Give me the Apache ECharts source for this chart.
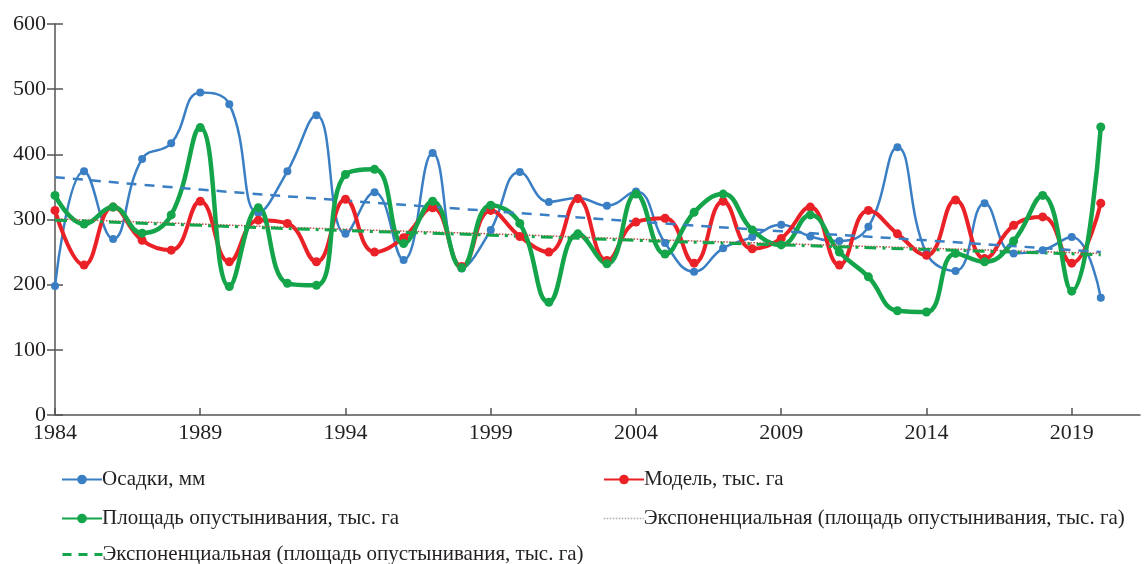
<!DOCTYPE html>
<html>
<head>
<meta charset="utf-8">
<script src="https://cdn.jsdelivr.net/npm/echarts@6/dist/echarts.min.js"></script>
<style>
  html,body{margin:0;padding:0;background:#fff;}
  #main{width:1145px;height:564px;}
</style>
</head>
<body>
<div id="main"></div>
<script>
    // годы и ряды
    var years = [1984,1985,1986,1987,1988,1989,1990,1991,1992,1993,1994,1995,1996,1997,1998,1999,2000,2001,2002,2003,2004,2005,2006,2007,2008,2009,2010,2011,2012,2013,2014,2015,2016,2017,2018,2019,2020];
    var osadki = [198,374,270,393,417,495,477,310,374,460,278,342,238,402,225,284,373,327,333,321,343,264,220,256,273,292,274,267,289,411,248,221,325,248,253,273,180];
    var model = [314,230,319,268,253,328,235,299,294,235,331,250,272,318,228,314,274,250,332,237,296,302,233,328,255,271,319,230,314,278,245,330,240,291,304,233,325];
    var ploshad = [337,293,319,279,307,441,197,318,202,199,369,377,263,328,226,322,294,173,278,232,339,247,311,339,284,261,307,250,212,160,158,248,235,267,337,190,442];
    // тренды
    var trendYears = [1984,1989,1994,1999,2004,2009,2014,2020];
    var trendOsadki = [365,346,329,313,297,282,268,250];
    var trendPloshad = [299,291,283,276,268,261,254,246];
    var trendModel = [301,293,285,278,270,263,256,248];
    var xTicks = [1984,1989,1994,1999,2004,2009,2014,2019];

    var nOsadki = "Осадки, мм";
    var nModel = "Модель, тыс. га";
    var nPloshad = "Площадь опустынивания, тыс. га";
    var nTrend = "Экспоненциальная (площадь опустынивания, тыс. га)";

    var cBlue = "#3a7fc4";
    var cRed = "#ea2228";
    var cGreen = "#14a54b";
    var FONT = "Liberation Serif";

    function pairs(xs,ys){
        var arr = [];
        for(var i=0;i<xs.length;i++){
            arr.push([xs[i],ys[i]]);
        }
        return arr;
    }

    function oneLegend(left,top,item){
        return {
            left:left,
            top:top,
            itemWidth:40,
            itemHeight:12,
            itemGap:0,
            selectedMode:false,
            textStyle:{fontFamily:FONT,fontSize:21,color:"#231f20",padding:[0,0,0,-5]},
            data:[item]
        };
    }

    var dom = document.getElementById("main");
    var myChart = echarts.init(dom);
    var option = {
        animation:false,
        backgroundColor:"#fff",
        grid:{left:55,right:5,top:24,bottom:149},
        legend:[
            oneLegend(56,464,{name:nOsadki}),
            oneLegend(598,464,{name:nModel}),
            oneLegend(56,503,{name:nPloshad}),
            oneLegend(598,503,{name:nTrend,itemStyle:{opacity:0},lineStyle:{color:"#aaaaaa",type:"dotted",width:1.5}}),
            oneLegend(56,539,{name:nTrend,itemStyle:{opacity:0},lineStyle:{color:cGreen,type:[9,7],width:3}})
        ],
        xAxis:{
            type:"value",
            min:1984,
            max:2021.35,
            splitLine:{show:false},
            axisLine:{lineStyle:{color:"#555",width:1.5}},
            axisTick:{inside:true,length:7,customValues:xTicks,lineStyle:{color:"#555",width:1.5}},
            axisLabel:{
                customValues:xTicks,
                fontFamily:FONT,fontSize:22,color:"#231f20",margin:7,
                formatter:function(v){return String(v);}
            }
        },
        yAxis:[{
            type:"value",
            min:0,max:600,interval:100,
            splitLine:{show:false},
            axisLine:{show:true,lineStyle:{color:"#555",width:1.5}},
            axisTick:{show:true,length:8,lineStyle:{color:"#555",width:1.5}},
            axisLabel:{fontFamily:FONT,fontSize:22,color:"#231f20",margin:9}
        },{
            // внутренние засечки
            type:"value",
            position:"left",
            min:0,max:600,interval:100,
            splitLine:{show:false},
            axisLine:{show:false},
            axisTick:{show:true,inside:true,length:8,lineStyle:{color:"#555",width:1.5}},
            axisLabel:{show:false}
        }],
        series:[{
            name:nOsadki,
            type:"line",
            smooth:0.45,
            symbol:"circle",
            symbolSize:8,
            itemStyle:{color:cBlue},
            lineStyle:{color:cBlue,width:2.5},
            data:pairs(years,osadki)
        },{
            name:nModel,
            type:"line",
            smooth:0.45,
            symbol:"circle",
            symbolSize:9,
            itemStyle:{color:cRed},
            lineStyle:{color:cRed,width:4},
            data:pairs(years,model)
        },{
            name:nPloshad,
            type:"line",
            smooth:0.45,
            symbol:"circle",
            symbolSize:9,
            itemStyle:{color:cGreen},
            lineStyle:{color:cGreen,width:4.5},
            data:pairs(years,ploshad)
        },{
            name:"trendOsadki",
            type:"line",
            smooth:true,
            symbol:"none",
            lineStyle:{color:cBlue,width:2.5,type:[10,8]},
            data:pairs(trendYears,trendOsadki)
        },{
            name:nTrend,
            type:"line",
            smooth:true,
            symbol:"none",
            itemStyle:{color:"#c0504d"},
            lineStyle:{color:"#c0504d",width:1.5,type:"dotted"},
            data:pairs(trendYears,trendModel)
        },{
            name:nTrend,
            type:"line",
            smooth:true,
            symbol:"none",
            itemStyle:{color:cGreen},
            lineStyle:{color:cGreen,width:3,type:[12,6,3,6]},
            data:pairs(trendYears,trendPloshad)
        }]
    };
    myChart.setOption(option);
</script>
</body>
</html>
